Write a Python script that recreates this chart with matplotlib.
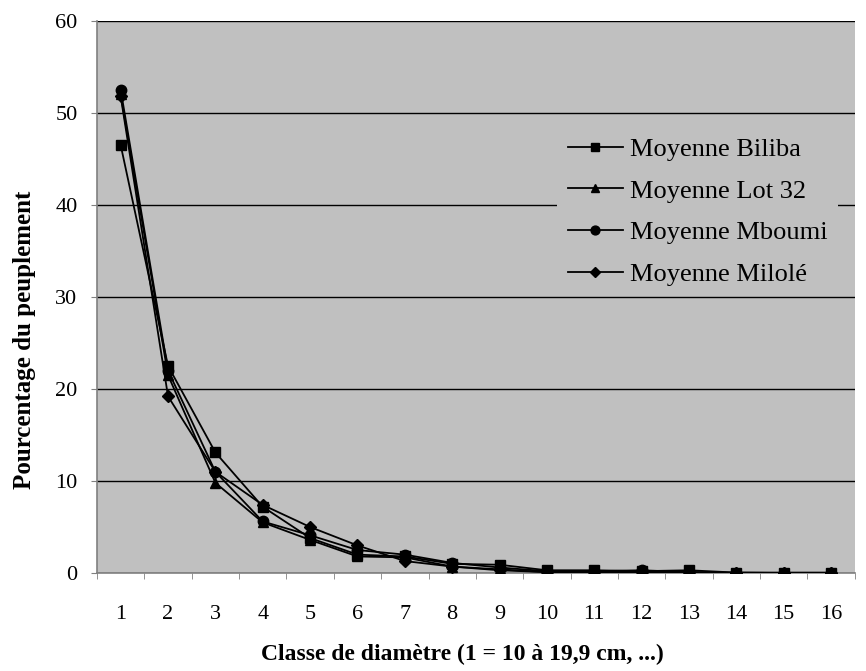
import numpy as np
import matplotlib
matplotlib.use("Agg")
import matplotlib.pyplot as plt

# diameter classes
classes = list(range(1, 17))

biliba = [46.5, 22.5, 13.1, 7.2, 3.8, 2.0, 1.8, 1.0, 0.9, 0.3, 0.3, 0.2, 0.3, 0.05, 0.05, 0.05]
lot32 = [52.0, 21.5, 9.8, 5.5, 3.6, 1.8, 1.7, 0.7, 0.4, 0.1, 0.2, 0.1, 0.0, 0.0, 0.0, 0.0]
mboumi = [52.5, 22.0, 11.0, 5.6, 4.1, 2.5, 2.0, 1.1, 0.6, 0.2, 0.2, 0.3, 0.1, 0.05, 0.0, 0.0]
milole = [51.8, 19.2, 11.0, 7.4, 5.0, 3.0, 1.3, 0.7, 0.3, 0.1, 0.1, 0.1, 0.1, 0.0, 0.0, 0.0]

labels = ["Moyenne Biliba", "Moyenne Lot 32", "Moyenne Mboumi", "Moyenne Milolé"]
yticks = [0, 10, 20, 30, 40, 50, 60]

plt.rcParams['font.family'] = ['Liberation Serif', 'DejaVu Serif']

fig = plt.figure(figsize=(8.66, 6.71), dpi=100)
ax = fig.add_axes([0.112, 0.146, 0.875, 0.823])
ax.set_facecolor('#C0C0C0')

series = [biliba, lot32, mboumi, milole]
markers = ['s', '^', 'o', 'D']
sizes = [7.5, 7.5, 7.5, 6]
for vals, m, ms, lab in zip(series, markers, sizes, labels):
    ax.plot(classes, vals, color='black', marker=m, markersize=ms, lw=1.3, label=lab, zorder=3)

ax.set_ylim(0, 60)
ax.set_xlim(0.5, 16.5)
ax.set_yticks(yticks)
ax.yaxis.grid(True, color='black', lw=1)
ax.set_axisbelow(True)

# category axis: ticks between categories, labels centered
ax.set_xticks(classes)
ax.set_xticks(np.arange(0.5, 17, 1), minor=True)
ax.tick_params(axis='x', which='major', length=0, pad=23, labelsize=16)
ax.tick_params(axis='x', which='minor', length=4, color='#808080', direction='out')
ax.tick_params(axis='y', length=4, color='#808080', direction='out', labelsize=16, pad=10)

for s in ['top', 'right']:
    ax.spines[s].set_visible(False)
for s in ['left', 'bottom']:
    ax.spines[s].set_color('#808080')
    ax.spines[s].set_linewidth(1.2)

ax.set_xlabel("Classe de diamètre (1 = 10 à 19,9 cm, ...)", fontweight='bold', fontsize=17)
ax.set_ylabel("Pourcentage du peuplement", fontweight='bold', fontsize=18)
ax.xaxis.set_label_coords(0.482, -0.128)
ax.yaxis.set_label_coords(-0.081, 0.422)

leg = ax.legend(loc='upper left', bbox_to_anchor=(0.607, 0.808), frameon=True,
                facecolor='#C0C0C0', edgecolor='none', framealpha=1, fancybox=False,
                fontsize=19, handlelength=2.1, handletextpad=0.25, labelspacing=0.69,
                borderpad=0.4, borderaxespad=0, markerscale=0.85)

fig.savefig("out.png", dpi=100)
